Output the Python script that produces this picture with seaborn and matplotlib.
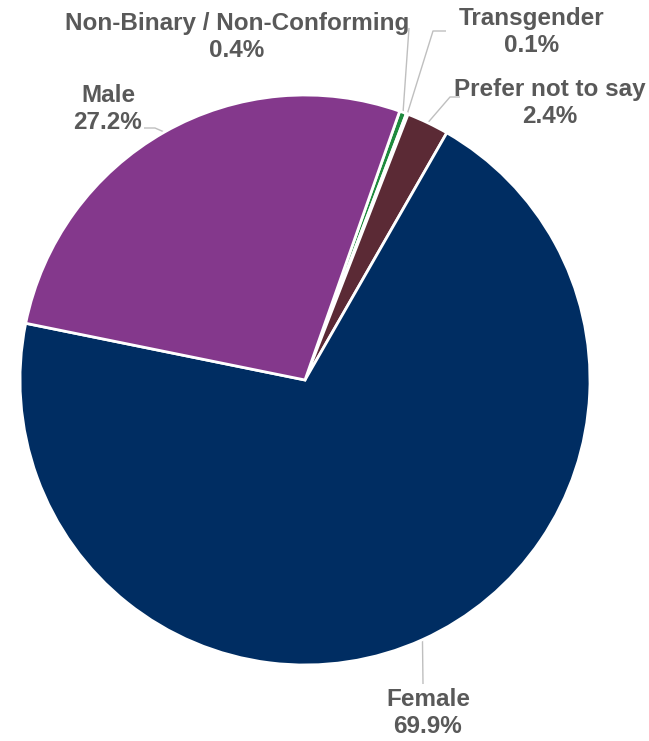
import numpy as np
import matplotlib
matplotlib.use("Agg")
import matplotlib.pyplot as plt
import seaborn as sns

# data
categories = ["Non-Binary / Non-Conforming", "Transgender", "Prefer not to say", "Female", "Male"]
shares = [0.4, 0.1, 2.4, 69.9, 27.2]
colors = ["#1E8A3E", "#A6A6A6", "#5B2A35", "#002D62", "#84388C"]

sns.set_theme(style="white")
plt.rcParams['font.family'] = ['Liberation Sans', 'DejaVu Sans']

W, H = 649, 741
CX, CY, R = 305, 380, 285   # pie centre and radius in pixels


def px(x, y):
    # pixel position -> data units (pie radius = 1)
    return (x - CX) / R, (CY - y) / R


fig = plt.figure(figsize=(W / 100, H / 100), dpi=100)
ax = fig.add_axes([0, 0, 1, 1])

wedges, _ = ax.pie(
    shares,
    colors=colors,
    startangle=90 - 19.4,
    counterclock=False,
    radius=1,
    wedgeprops=dict(edgecolor="white", linewidth=2),
)

ax.set_xlim(-CX / R, (W - CX) / R)
ax.set_ylim(-(H - CY) / R, CY / R)
ax.set_aspect("equal")
ax.axis("off")

# label placement (text centre) and leader line points, in pixels
label_pos = {
    "Non-Binary / Non-Conforming": (237, 37),
    "Transgender": (532, 32),
    "Prefer not to say": (550, 103),
    "Female": (428, 713),
    "Male": (108, 109),
}
leader = {
    "Non-Binary / Non-Conforming": [(409, 28)],
    "Transgender": [(433, 31), (446, 31)],
    "Prefer not to say": [(450, 97), (460, 97)],
    "Female": [(423, 684)],
    "Male": [(155, 128), (144, 128)],
}

line_col = "#BFBFBF"
text_col = "#595959"

for w, cat, val in zip(wedges, categories, shares):
    mid = np.deg2rad((w.theta1 + w.theta2) / 2)
    start = (np.cos(mid), np.sin(mid))
    pts = [start] + [px(*p) for p in leader[cat]]
    ax.plot([p[0] for p in pts], [p[1] for p in pts], color=line_col, lw=1,
            solid_capstyle="butt", zorder=0.5)
    tx, ty = px(*label_pos[cat])
    ax.text(tx, ty, f"{cat}\n{val:.1f}%", ha="center", va="center",
            fontsize=17.5, fontweight="bold", color=text_col, linespacing=1.27)

fig.savefig("out.png", dpi=100, facecolor="white")
